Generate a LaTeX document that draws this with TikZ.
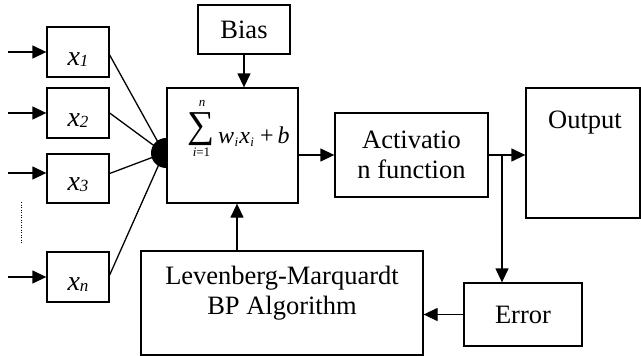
\documentclass[tikz,border=0pt]{standalone}
\usepackage{fontspec}
\setmainfont{Liberation Serif}
\usetikzlibrary{arrows.meta}
\begin{document}
\begin{tikzpicture}[x=1pt,y=-1pt,line width=1.3pt,
  box/.style={draw,rectangle,inner sep=0pt,line width=1.3pt,fill=white},
  arr/.style={-{Triangle[length=14pt,width=13pt]}},
  txt/.style={font=\fontsize{26.5}{30}\selectfont,align=center,inner sep=0pt},
  xlbl/.style={font=\fontsize{28}{28}\selectfont\itshape,anchor=base,inner sep=0pt}]
\useasboundingbox (0,0) rectangle (641,356);
% input boxes
\node[box,minimum width=62pt,minimum height=50pt] (x1) at (78,52) {};
\node[box,minimum width=62pt,minimum height=50pt] (x2) at (78,113) {};
\node[box,minimum width=62pt,minimum height=49pt] (x3) at (78,178.5) {};
\node[box,minimum width=62pt,minimum height=50pt] (xn) at (78,277) {};
\node[xlbl] (t1) at (78,65) {x\lower1pt\hbox{\fontsize{17}{17}\selectfont 1}};
\node[xlbl] (t2) at (78,126) {x\lower1pt\hbox{\fontsize{17}{17}\selectfont 2}};
\node[xlbl] (t3) at (78,190.5) {x\lower1pt\hbox{\fontsize{17}{17}\selectfont 3}};
\node[xlbl] (tn) at (78,290) {x\lower1pt\hbox{\fontsize{17}{17}\selectfont n}};
% input arrows
\coordinate (s1) at (8,52);
\coordinate (s2) at (8,113);
\coordinate (s3) at (8,173);
\coordinate (sn) at (8,277);
\draw[arr] (s1) -- (x1.west);
\draw[arr] (s2) -- (x2.west);
\draw[arr] (s3) -- (s3 -| x3.west);
\draw[arr] (sn) -- (xn.west);
% dotted
\coordinate (d1) at (21,202);
\coordinate (d2) at (21,243);
\draw[line width=1pt,dash pattern=on 1pt off 1.5pt] (d1) -- (d2);
% junction
\coordinate (jn) at (164,153);
\draw ([yshift=-3pt]x1.east) -- (jn);
\draw (x2.east) -- (jn);
\draw ([yshift=5pt]x3.east) -- (jn);
\draw ([yshift=2pt]xn.east) -- (jn);
\fill (166,153) circle[radius=15];
% sum box
\node[box,minimum width=131pt,minimum height=115pt] (sum) at (232.5,145.5) {};
\node[inner sep=0pt,font=\fontsize{38}{38}\selectfont] (sig) at (201.5,129) {∑};
\node[inner sep=0pt,font=\fontsize{13}{13}\selectfont\itshape] (supn) at (202,103) {n};
\node[inner sep=0pt,font=\fontsize{13}{13}\selectfont,anchor=base] (subi) at (201.5,156) {\textit{i}=1};
\node[inner sep=0pt,anchor=base west,font=\fontsize{24}{24}\selectfont] (fw) at (217.5,143)
  {\textit{w}\kern0.5pt\lower3pt\hbox{\fontsize{13}{13}\selectfont\itshape i}\kern1pt\textit{x}\kern0.5pt\lower3pt\hbox{\fontsize{13}{13}\selectfont\itshape i} +\,\textit{b}};
% bias
\node[box,txt,minimum width=92pt,minimum height=49pt] (bias) at (244,29.5) {Bias};
\draw[arr] (bias) -- (bias |- sum.north);
% activation
\node[box,txt,minimum width=153pt,minimum height=84pt] (act) at (411.5,155) {Activatio\\n function};
\draw[arr] (sum.east |- act) -- (act.west);
% output
\node[box,minimum width=114pt,minimum height=130pt] (out) at (583,153) {};
\node[txt] (outt) at (585,123) {Output};
\draw[arr] (act.east) -- (out.west |- act);
% error
\coordinate (br) at (502,155);
\node[box,txt,minimum width=118pt,minimum height=63pt] (err) at (523,314.5) {Error};
\draw[arr] (br) -- (br |- err.north);
% LM
\node[box,minimum width=282pt,minimum height=104pt] (lm) at (282,303) {};
\node[txt] (lmt) at (282,293) {Levenberg-Marquardt\\BP Algorithm};
\draw[arr] (err.west) -- (lm.east |- err);
\coordinate (sb) at (237,0);
\draw[arr] (sb |- lm.north) -- (sb |- sum.south);
\end{tikzpicture}
\end{document}
